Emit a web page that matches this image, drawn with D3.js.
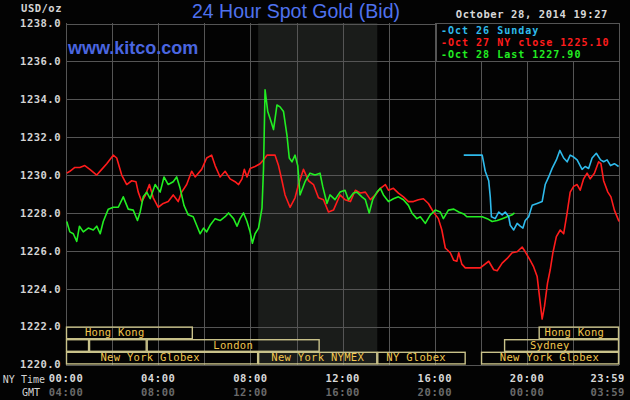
<!DOCTYPE html>
<html>
<head>
<meta charset="utf-8">
<script src="https://cdn.jsdelivr.net/npm/d3@7"></script>
<style>
  body { margin: 0; background: #000; }
  svg { display: block; }
  .mono { font-family: "DejaVu Sans Mono", monospace; font-weight: bold; }
</style>
</head>
<body>
<script>
// 24 hour spot gold, minutes since 00:00 NY time -> bid price

let oct26Times = [1035, 1083, 1091, 1100, 1104, 1107, 1117, 1126, 1135, 1143, 1152, 1156, 1165, 1174, 1182, 1189, 1195, 1204, 1213, 1226, 1239, 1247, 1256, 1265, 1276, 1285, 1295, 1304, 1312, 1321, 1330, 1343, 1351, 1360, 1369, 1380, 1391, 1399, 1408, 1417, 1427, 1438];
let oct26Prices = [1231.05, 1231.05, 1230.2, 1229.7, 1228.85, 1227.8, 1227.7, 1228.05, 1227.9, 1228.05, 1227.8, 1227.35, 1227.1, 1227.45, 1227.3, 1227.2, 1227.6, 1227.8, 1228.4, 1228.5, 1228.6, 1229.5, 1229.9, 1230.35, 1230.8, 1231.3, 1230.9, 1230.7, 1231.05, 1230.95, 1230.8, 1230.3, 1230.45, 1230.35, 1230.9, 1231.15, 1230.8, 1230.7, 1230.8, 1230.5, 1230.6, 1230.45];

let oct27Times = [2, 10, 23, 36, 49, 62, 80, 93, 106, 123, 132, 145, 158, 171, 182, 188, 197, 206, 217, 227, 240, 253, 266, 279, 292, 301, 314, 327, 336, 353, 366, 379, 388, 401, 414, 427, 440, 449, 458, 464, 471, 479, 492, 505, 514, 523, 544, 553, 562, 570, 583, 596, 605, 618, 631, 644, 657, 670, 683, 696, 713, 726, 740, 753, 766, 779, 792, 805, 818, 831, 839, 852, 865, 878, 891, 904, 917, 930, 943, 956, 969, 978, 987, 1000, 1009, 1017, 1022, 1030, 1039, 1078, 1100, 1113, 1122, 1135, 1148, 1161, 1174, 1187, 1195, 1208, 1217, 1226, 1230, 1239, 1245, 1253, 1260, 1267, 1276, 1286, 1295, 1304, 1312, 1321, 1330, 1338, 1347, 1356, 1364, 1375, 1386, 1392, 1399, 1410, 1418, 1427, 1436, 1439];
let oct27Prices = [1230.1, 1230.2, 1230.4, 1230.4, 1230.5, 1230.3, 1230.0, 1230.3, 1230.6, 1231.05, 1230.9, 1230.0, 1229.5, 1229.7, 1229.65, 1229.1, 1228.6, 1228.9, 1229.5, 1228.8, 1228.3, 1228.5, 1228.6, 1228.95, 1228.6, 1229.1, 1229.5, 1230.2, 1229.9, 1230.3, 1230.9, 1231.05, 1230.5, 1229.9, 1230.2, 1229.8, 1229.65, 1229.5, 1229.8, 1230.3, 1229.9, 1230.35, 1230.45, 1230.6, 1230.8, 1231.05, 1231.05, 1230.5, 1229.7, 1228.95, 1228.3, 1228.8, 1229.5, 1230.3, 1229.7, 1229.5, 1228.8, 1228.7, 1228.05, 1228.15, 1228.95, 1228.7, 1228.6, 1229.2, 1229.05, 1229.1, 1228.7, 1228.95, 1229.3, 1229.5, 1229.2, 1229.3, 1229.05, 1228.85, 1228.6, 1228.6, 1228.7, 1228.75, 1228.5, 1228.05, 1227.7, 1227.1, 1226.15, 1225.9, 1225.5, 1225.45, 1225.9, 1225.3, 1225.1, 1225.1, 1225.45, 1225.0, 1224.95, 1225.35, 1225.6, 1225.9, 1225.95, 1226.2, 1225.95, 1225.5, 1225.15, 1224.65, 1223.95, 1222.4, 1223.05, 1224.3, 1225.0, 1225.9, 1226.75, 1227.1, 1226.9, 1228.0, 1229.1, 1229.4, 1229.5, 1229.2, 1229.8, 1230.1, 1229.8, 1230.1, 1230.7, 1230.6, 1229.7, 1229.1, 1228.85, 1228.15, 1227.7, 1227.55];

let oct28Times = [2, 10, 19, 28, 35, 45, 58, 71, 80, 89, 97, 110, 123, 136, 149, 162, 175, 186, 193, 201, 210, 219, 232, 245, 255, 266, 279, 288, 297, 307, 318, 331, 349, 358, 366, 375, 388, 401, 414, 423, 436, 445, 453, 462, 471, 479, 485, 492, 501, 510, 514, 518, 525, 534, 540, 549, 557, 566, 575, 581, 588, 596, 603, 609, 622, 635, 648, 661, 668, 679, 687, 700, 713, 726, 735, 748, 757, 770, 779, 789, 798, 809, 818, 826, 839, 852, 865, 878, 891, 900, 913, 922, 935, 948, 961, 974, 982, 995, 1009, 1022, 1035, 1043, 1083, 1096, 1109, 1122, 1135, 1148, 1161, 1167];
let oct28Prices = [1227.55, 1227.0, 1226.9, 1226.5, 1227.3, 1227.0, 1227.2, 1227.1, 1227.3, 1226.9, 1227.55, 1228.2, 1228.3, 1228.3, 1228.85, 1228.2, 1228.15, 1227.6, 1228.05, 1228.85, 1229.1, 1228.75, 1229.5, 1229.1, 1229.9, 1229.5, 1229.65, 1229.9, 1229.3, 1228.4, 1227.9, 1227.8, 1226.9, 1227.2, 1227.0, 1227.35, 1227.7, 1227.6, 1227.8, 1228.0, 1227.7, 1227.3, 1227.7, 1228.0, 1227.55, 1227.0, 1226.4, 1226.9, 1227.2, 1228.25, 1230.35, 1234.5, 1233.35, 1232.8, 1232.4, 1233.7, 1233.6, 1233.35, 1232.1, 1230.9, 1230.7, 1231.05, 1230.5, 1228.95, 1229.65, 1230.1, 1230.0, 1230.1, 1229.4, 1228.5, 1228.95, 1228.7, 1229.1, 1229.2, 1228.7, 1229.05, 1229.1, 1228.85, 1228.7, 1228.0, 1228.7, 1229.1, 1229.3, 1228.95, 1228.6, 1228.75, 1228.85, 1228.7, 1228.4, 1228.0, 1227.7, 1227.8, 1227.45, 1227.9, 1228.15, 1228.05, 1227.7, 1228.15, 1228.2, 1228.05, 1227.95, 1227.8, 1227.8, 1227.7, 1227.55, 1227.6, 1227.7, 1227.8, 1227.9, 1228.0];

let priceTicks = [1220, 1222, 1224, 1226, 1228, 1230, 1232, 1234, 1236, 1238];
let timeTicks = [0, 240, 480, 720, 960, 1200, 1439];
let nyLabels = ["00:00", "04:00", "08:00", "12:00", "16:00", "20:00", "23:59"];
let gmtLabels = ["04:00", "08:00", "12:00", "16:00", "20:00", "00:00", "03:59"];

let legendLabels = ["Oct 26 Sunday", "Oct 27 NY close 1225.10", "Oct 28 Last 1227.90"];
let legendColors = ["#2fbbec", "#ff1c1c", "#22ee22"];

// NYMEX pit session (shaded)
let pitSession = [500, 810];

// market session bars: row, start, end (minutes), label position
let sessions = [
  {name: "Hong Kong", row: 0, start: 0, end: 330, label: 127},
  {name: "Hong Kong", row: 0, start: 1230, end: 1439, label: 1323},
  {name: "", row: 1, start: 0, end: 60, label: 30},
  {name: "", row: 1, start: 60, end: 210, label: 135},
  {name: "London", row: 1, start: 210, end: 660, label: 435},
  {name: "Sydney", row: 1, start: 1140, end: 1439, label: 1259},
  {name: "New York Globex", row: 2, start: 0, end: 500, label: 219},
  {name: "New York NYMEX", row: 2, start: 500, end: 810, label: 655},
  {name: "NY Globex", row: 2, start: 810, end: 1040, label: 911},
  {name: "New York Globex", row: 2, start: 1080, end: 1439, label: 1258}
];

let margin = null, width = null, height = null;
let svg = null, plot = null;
let x, y = null;

setupCanvasSize();
appendSvg("body");
setupScales();
appendShading();
appendGrid();
appendSessions();
appendLines();
appendLegend();
appendTexts();
appendTimeAxis();

function setupCanvasSize() {
  margin = {top: 23, left: 66, bottom: 35, right: 11};
  width = 630 - margin.left - margin.right;
  height = 400 - margin.top - margin.bottom;
}

function appendSvg(domElement) {
  svg = d3.select(domElement).append("svg")
    .attr("width", 630)
    .attr("height", 400)
    .style("background", "#030303");
  plot = svg.append("g")
    .attr("transform", `translate(${margin.left}, ${margin.top})`);
}

function setupScales() {
  x = d3.scaleLinear().domain([0, 1439]).range([0, width]);
  y = d3.scaleLinear().domain([1220, 1238]).range([height - 0.5, 0.5]);
}

function appendShading() {
  plot.append("rect")
    .attr("x", x(pitSession[0]))
    .attr("y", 0)
    .attr("width", x(pitSession[1]) - x(pitSession[0]))
    .attr("height", height)
    .attr("fill", "#1a1c1a");
}

function appendGrid() {
  // horizontal grid + price labels
  let yAxis = plot.append("g")
    .call(d3.axisLeft(y).tickValues(priceTicks).tickSize(-width).tickFormat(d3.format(".1f")));
  yAxis.select(".domain").remove();
  yAxis.selectAll(".tick line").attr("stroke", "#555").attr("shape-rendering", "crispEdges");
  yAxis.selectAll(".tick text")
    .attr("class", "mono")
    .attr("x", -5)
    .attr("fill", "#d4d4d4")
    .style("font-size", "10.5px")
    .style("letter-spacing", "0.5px");

  // vertical grid every 2 hours
  plot.append("g").selectAll("line")
    .data(d3.range(0, 1441, 120))
    .enter().append("line")
    .attr("x1", d => Math.round(x(Math.min(d, 1439))) + 0.5)
    .attr("x2", d => Math.round(x(Math.min(d, 1439))) + 0.5)
    .attr("y1", 0)
    .attr("y2", height)
    .attr("stroke", "#555");
}

function appendSessions() {
  let rowH = 12.6;
  let top = y(1222);
  let g = plot.append("g");
  g.selectAll("rect")
    .data(sessions)
    .enter().append("rect")
    .attr("x", d => x(d.start) + 0.5)
    .attr("y", d => top + d.row * rowH + 0.5)
    .attr("width", d => x(d.end) - x(d.start) - 1)
    .attr("height", rowH - 1)
    .attr("fill", "none")
    .attr("stroke", "#c9c28a")
    .attr("stroke-width", 1.4);
  g.selectAll("text")
    .data(sessions.filter(d => d.name))
    .enter().append("text")
    .attr("class", "mono")
    .attr("x", d => x(d.label))
    .attr("y", d => top + d.row * rowH + 9.5)
    .attr("text-anchor", "middle")
    .attr("fill", "#f2c64e")
    .style("font-size", "10.5px")
    .style("letter-spacing", "0.3px")
    .style("font-weight", "normal")
    .text(d => d.name);
}

function appendLines() {
  let series = [
    {times: oct27Times, prices: oct27Prices, color: legendColors[1]},
    {times: oct28Times, prices: oct28Prices, color: legendColors[2]},
    {times: oct26Times, prices: oct26Prices, color: legendColors[0]}
  ];
  let line = d3.line()
    .x(d => x(d[0]))
    .y(d => y(d[1]));
  series.forEach(s => {
    plot.append("path")
      .datum(d3.zip(s.times, s.prices))
      .attr("fill", "none")
      .attr("stroke", s.color)
      .attr("stroke-width", 1.6)
      .attr("stroke-linejoin", "round")
      .attr("d", line);
  });
}

function appendLegend() {
  let lx = 436, ly = margin.top;
  svg.append("rect")
    .attr("x", lx + 0.5).attr("y", ly + 0.5)
    .attr("width", 619 - lx).attr("height", 38)
    .attr("fill", "#030303")
    .attr("stroke", "#555");
  let g = svg.append("g");
  legendLabels.forEach((t, i) => {
    g.append("text")
      .attr("class", "mono")
      .attr("x", lx + 5)
      .attr("y", ly + 10.5 + i * 12)
      .attr("fill", legendColors[i])
      .style("font-size", "10px")
      .style("letter-spacing", "1px")
      .text("-" + t);
  });
}

function appendTexts() {
  svg.append("text")
    .attr("x", 296).attr("y", 18)
    .attr("text-anchor", "middle")
    .attr("fill", "#4f72ee")
    .style("font-family", "'Liberation Sans', Arial, sans-serif")
    .style("font-size", "19.5px")
    .text("24 Hour Spot Gold (Bid)");
  svg.append("text")
    .attr("x", 68).attr("y", 54)
    .attr("fill", "#4a66e0")
    .style("font-family", "'Liberation Sans', Arial, sans-serif")
    .style("font-weight", "bold")
    .style("font-size", "18px")
    .text("www.kitco.com");
  svg.append("text")
    .attr("class", "mono")
    .attr("x", 62).attr("y", 12)
    .attr("text-anchor", "end")
    .attr("fill", "#d4d4d4")
    .style("font-size", "10.5px")
    .style("letter-spacing", "0.5px")
    .text("USD/oz");
  svg.append("text")
    .attr("class", "mono")
    .attr("x", 608).attr("y", 18)
    .attr("text-anchor", "end")
    .attr("fill", "#d8d8d8")
    .style("font-size", "10.5px")
    .style("letter-spacing", "0.6px")
    .text("October 28, 2014 19:27");
}

function appendTimeAxis() {
  let g = svg.append("g").attr("transform", `translate(${margin.left}, 0)`);
  let last = timeTicks.length - 1;
  g.selectAll(".ny")
    .data(timeTicks)
    .enter().append("text")
    .attr("class", "mono")
    .attr("x", (d, i) => i == last ? x(d) + 6 : x(d))
    .attr("y", 382)
    .attr("text-anchor", (d, i) => i == last ? "end" : "middle")
    .attr("fill", "#d8d8d8")
    .style("font-size", "10.5px")
    .style("letter-spacing", "0.6px")
    .text((d, i) => nyLabels[i]);
  g.selectAll(".gmt")
    .data(timeTicks)
    .enter().append("text")
    .attr("class", "mono")
    .attr("x", (d, i) => i == last ? x(d) + 6 : x(d))
    .attr("y", 396)
    .attr("text-anchor", (d, i) => i == last ? "end" : "middle")
    .attr("fill", "#6a6a6a")
    .style("font-size", "10.5px")
    .style("letter-spacing", "0.6px")
    .text((d, i) => gmtLabels[i]);
  svg.append("text")
    .attr("x", 45).attr("y", 383)
    .attr("text-anchor", "end")
    .attr("fill", "#d4d4d4")
    .style("font-family", "'DejaVu Sans Mono', monospace")
    .style("font-size", "10px")
    .text("NY Time");
  svg.append("text")
    .attr("x", 40).attr("y", 396)
    .attr("text-anchor", "end")
    .attr("fill", "#d4d4d4")
    .style("font-family", "'DejaVu Sans Mono', monospace")
    .style("font-size", "10px")
    .text("GMT");
}
</script>
</body>
</html>
